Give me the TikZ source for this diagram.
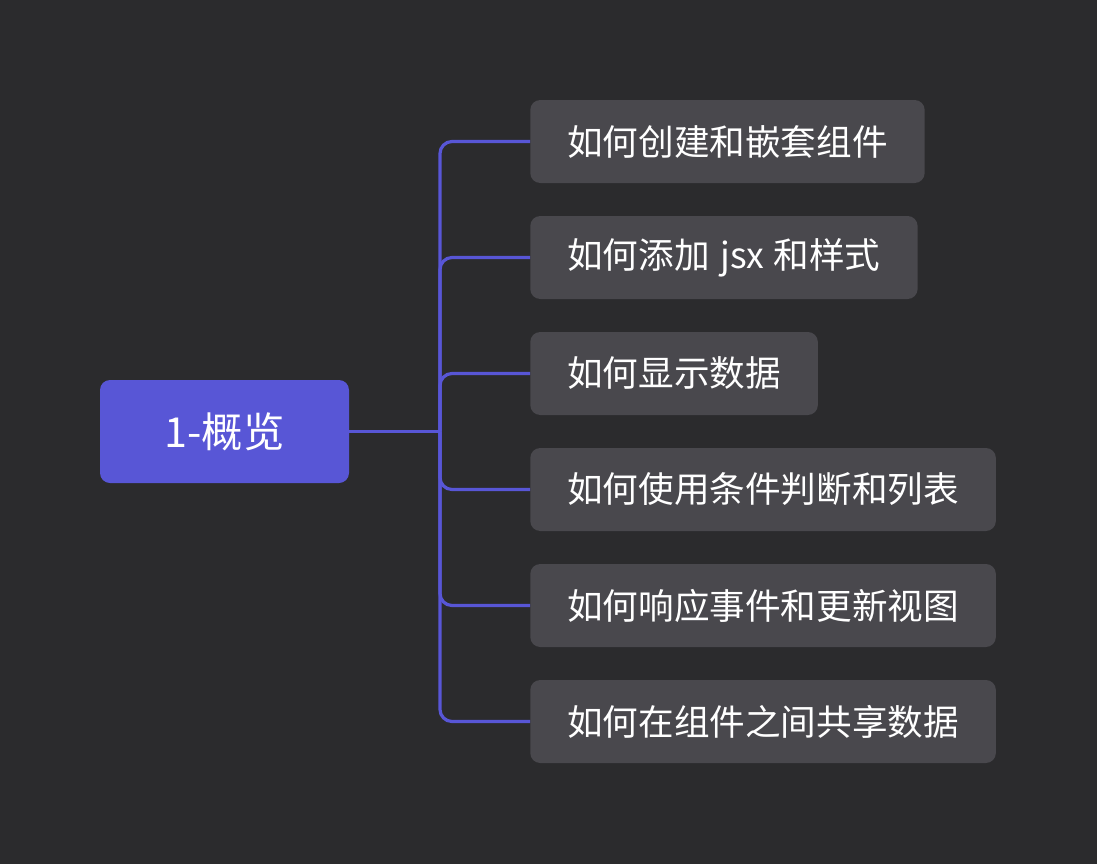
\documentclass[tikz,border=0pt]{standalone}
\usepackage{fontspec}
\setmainfont{Noto Sans CJK SC}
\definecolor{canvas}{HTML}{2B2B2D}
\definecolor{topicpurple}{HTML}{5856D6}
\definecolor{leafgray}{HTML}{49484D}
\begin{document}
\begin{tikzpicture}[x=0.75pt, y=-0.75pt,
  root/.style={fill=topicpurple, rounded corners=7.5pt, text=white, minimum width=186.75pt, minimum height=77.25pt, font=\fontsize{31}{33}\selectfont},
  leaf/.style={fill=leafgray, rounded corners=7.5pt, text=white, anchor=west, inner xsep=27.75pt, minimum height=62.25pt, font=\fontsize{26.7}{28}\selectfont},
  link/.style={draw=topicpurple, line width=2.4pt}]
\fill[canvas] (0,0) rectangle (1097,864);
\useasboundingbox (0,0) rectangle (1097,864);

\node[root] (root) at (224.5,431.5) {1-概览};

\node[leaf] (c1) at (530,141.5) {如何创建和嵌套组件};
\node[leaf] (c2) at (530,257.5) {如何添加\hspace{2pt} jsx \hspace{1pt}和样式};
\node[leaf] (c3) at (530,373.5) {如何显示数据};
\node[leaf] (c4) at (530,489.5) {如何使用条件判断和列表};
\node[leaf] (c5) at (530,605.5) {如何响应事件和更新视图};
\node[leaf] (c6) at (530,721.5) {如何在组件之间共享数据};

\coordinate (fork) at (440,431.5);
\draw[link] (root.east) -- (fork);
\foreach \c in {c1,c2,c3,c4,c5,c6}
  \draw[link, rounded corners=9pt] (fork) |- (\c.west);
\end{tikzpicture}
\end{document}
